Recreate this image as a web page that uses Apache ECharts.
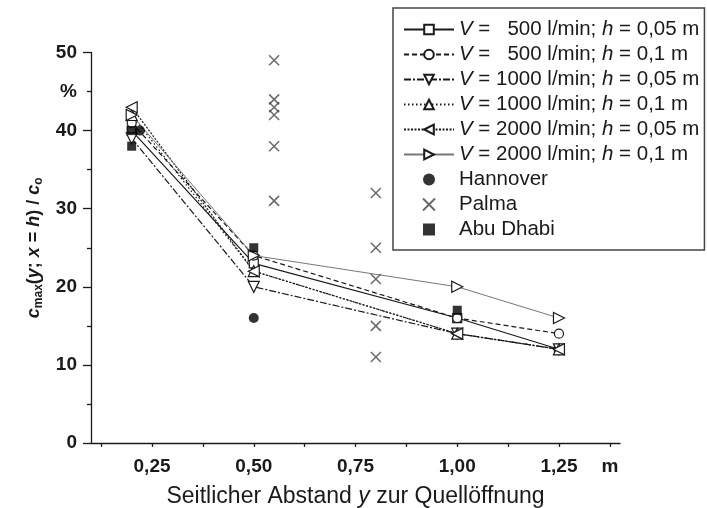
<!DOCTYPE html>
<html><head><meta charset="utf-8">
<script src="https://cdn.jsdelivr.net/npm/echarts@6/dist/echarts.min.js"></script>
<style>html,body{margin:0;padding:0;background:#fff}#c{width:707px;height:508px}</style>
</head><body><div id="c"></div>
<script>
// ---- data ----
const xPos = [0.2, 0.5, 1.0, 1.25];
const s500_005 = [40, 23, 16, 12];
const s500_01 = [41, 24, 16, 14];
const s1000_005 = [39, 20, 14, 12];
const s1000_01 = [42, 22, 14, 12];
const s2000_005 = [43, 22, 14, 12];
const s2000_01 = [42, 24, 20, 16];
const hannoverX = [0.22, 0.5];
const hannoverY = [40, 16];
const palmaX = [0.55, 0.55, 0.55, 0.55, 0.55, 0.55, 0.8, 0.8, 0.8, 0.8, 0.8];
const palmaY = [49, 44, 43, 42, 38, 31, 32, 25, 21, 15, 11];
const abuX = [0.2, 0.2, 0.5, 1.0];
const abuY = [40, 38, 25, 17];
const xLabelValues = [0.25, 0.5, 0.75, 1.0, 1.25];
const xTickValues = [0.125, 0.25, 0.375, 0.5, 0.625, 0.75, 0.875, 1.0, 1.125, 1.25, 1.375];
const xUnitPos = 1.375, xUnit = 'm';
const yLabelValues = [0, 10, 20, 30, 40, 50];
const yUnitPos = 45, yUnit = '%';
const names = [
  'V = 500 l/min; h = 0,05 m', 'V = 500 l/min; h = 0,1 m',
  'V = 1000 l/min; h = 0,05 m', 'V = 1000 l/min; h = 0,1 m',
  'V = 2000 l/min; h = 0,05 m', 'V = 2000 l/min; h = 0,1 m',
  'Hannover', 'Palma', 'Abu Dhabi'
];

const pairs = (xs, ys) => xs.map((x, i) => [x, ys[i]]);
const K = '#1a1a1a';
const FONT = 'Liberation Sans, Arial, sans-serif';

function lineSeries(name, vals, symbol, rot, size, lineStyle) {
  return {
    name, type: 'line', data: pairs(xPos, vals), symbol, symbolRotate: rot, symbolSize: size,
    lineStyle: Object.assign({ color: K, width: 1.2 }, lineStyle),
    itemStyle: { color: '#fff', borderColor: K, borderWidth: 1.2 },
    z: 2, animation: false
  };
}

const series = [
  lineSeries(names[0], s500_005, 'rect', 0, 9, { type: 'solid' }),
  lineSeries(names[1], s500_01, 'circle', 0, 9, { type: [5, 3] }),
  lineSeries(names[2], s1000_005, 'triangle', 180, 11, { type: [7, 2, 2, 2] }),
  lineSeries(names[3], s1000_01, 'triangle', 0, 11, { type: [1.5, 2.5] }),
  lineSeries(names[4], s2000_005, 'triangle', 90, 11, { type: [2, 1.5] }),
  lineSeries(names[5], s2000_01, 'triangle', -90, 11, { type: 'solid', width: 1, color: '#777' }),
  { name: names[6], type: 'scatter', data: pairs(hannoverX, hannoverY), symbol: 'circle', symbolSize: 10,
    itemStyle: { color: '#000' }, z: 3, animation: false },
  { name: names[7], type: 'scatter', data: pairs(palmaX, palmaY), symbol: 'path://M0,0L10,10M10,0L0,10', symbolSize: 10,
    itemStyle: { color: 'rgba(0,0,0,0)', borderColor: '#444', borderWidth: 1.5 }, z: 3, animation: false },
  { name: names[8], type: 'scatter', data: pairs(abuX, abuY), symbol: 'path://M0,0H10V10H0Z', symbolSize: 9,
    symbolKeepAspect: true, itemStyle: { color: '#000' }, z: 3, animation: false }
];

function legendFmt(n) {
  const m = n.match(/^V = (\d+) l\/min; h = (.*)$/);
  if (!m) return n;
  const pad = m[1].length === 3 ? '  ' : '';
  return '{i|V} = ' + pad + m[1] + ' l/min; {i|h} = ' + m[2];
}

const chart = echarts.init(document.getElementById('c'), null, { renderer: 'canvas' });
chart.setOption({
  backgroundColor: '#fff',
  animation: false,
  textStyle: { fontFamily: FONT },
  grid: { left: 91, right: 87, top: 52.5, bottom: 65, containLabel: false, outerBoundsMode: 'none' },
  xAxis: {
    type: 'value', min: 0.1, max: 1.4,
    axisLine: { show: true, onZero: false, lineStyle: { color: K, width: 1.3 } },
    axisTick: { show: true, customValues: xTickValues, length: 4, lineStyle: { color: K, width: 1.3 } },
    axisLabel: {
      customValues: xLabelValues.concat([xUnitPos]), margin: 14,
      fontSize: 19, fontWeight: 'bold', color: K, fontFamily: FONT,
      formatter: v => Math.abs(v - xUnitPos) < 1e-9 ? xUnit : v.toFixed(2).replace('.', ',')
    },
    splitLine: { show: false },
    name: '{n|Seitlicher Abstand }{i|y}{n| zur Quellöffnung}',
    nameLocation: 'middle', nameGap: 42,
    nameTextStyle: {
      fontSize: 23, color: K, fontFamily: FONT,
      rich: { n: { fontSize: 23, color: K, fontFamily: FONT }, i: { fontSize: 23, fontStyle: 'italic', color: K, fontFamily: FONT } }
    }
  },
  yAxis: {
    type: 'value', min: 0, max: 50, interval: 10,
    axisLine: { show: true, onZero: false, lineStyle: { color: K, width: 1.3 } },
    axisTick: { show: true, length: 8, lineStyle: { color: K, width: 1.3 } },
    minorTick: { show: true, splitNumber: 2, length: 4, lineStyle: { color: K, width: 1.3 } },
    axisLabel: {
      customValues: yLabelValues.concat([yUnitPos]), margin: 14,
      fontSize: 19, fontWeight: 'bold', color: K, fontFamily: FONT,
      formatter: v => v === yUnitPos ? yUnit : String(v)
    },
    splitLine: { show: false },
    minorSplitLine: { show: false },
    name: '{ci|c}{sub|max}{n|(}{ci|y}{n|; }{ci|x}{n| = }{ci|h}{n|) / }{ci|c}{sub|o}',
    nameLocation: 'middle', nameRotate: 90, nameGap: 46,
    nameTextStyle: {
      fontSize: 18, fontWeight: 'bold', color: K, fontFamily: FONT,
      rich: {
        n: { fontSize: 18, fontWeight: 'bold', color: K, fontFamily: FONT, lineHeight: 22 },
        ci: { fontSize: 18, fontWeight: 'bold', fontStyle: 'italic', color: K, fontFamily: FONT, lineHeight: 22 },
        sub: { fontSize: 12, fontWeight: 'bold', color: K, fontFamily: FONT, lineHeight: 12, verticalAlign: 'bottom' }
      }
    }
  },
  legend: {
    data: names, orient: 'vertical', left: 393, top: 8,
    padding: [11, 5, 10, 10], itemGap: 4, itemWidth: 50, itemHeight: 12,
    borderColor: '#444', borderWidth: 1.5, backgroundColor: '#fff',
    formatter: legendFmt,
    textStyle: {
      fontSize: 20.5, color: K, fontFamily: FONT, lineHeight: 20,
      rich: { i: { fontSize: 20.5, fontStyle: 'italic', color: K, fontFamily: FONT, lineHeight: 20 } }
    }
  },
  series
});
</script></body></html>
